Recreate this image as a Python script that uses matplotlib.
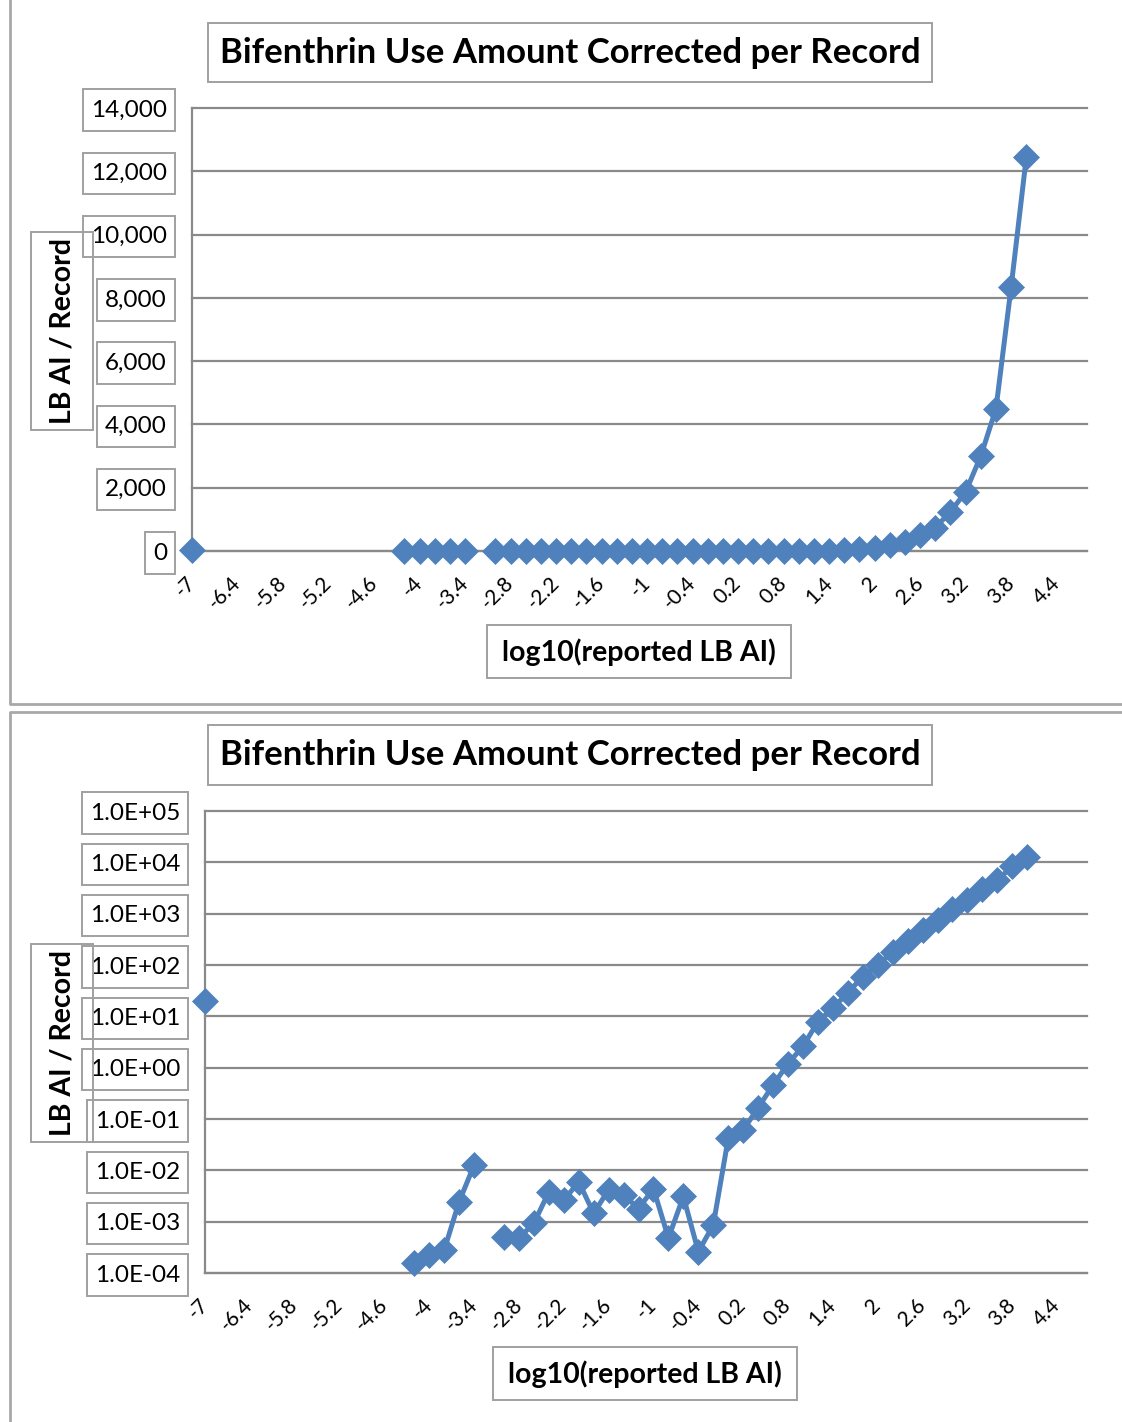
import numpy as np
import matplotlib
matplotlib.use("Agg")
import matplotlib.pyplot as plt
from matplotlib.patches import Rectangle
from matplotlib.lines import Line2D
from matplotlib.path import Path

plt.rcParams['font.family'] = ['Lato', 'DejaVu Sans']

# Bins of log10(reported LB AI); one value per bin, NaN where a bin has no records
log_reported = [-7.0, -6.8, -6.6, -6.4, -6.2, -6.0, -5.8, -5.6, -5.4, -5.2,
                -5.0, -4.8, -4.6, -4.4, -4.2, -4.0, -3.8, -3.6, -3.4, -3.2,
                -3.0, -2.8, -2.6, -2.4, -2.2, -2.0, -1.8, -1.6, -1.4, -1.2,
                -1.0, -0.8, -0.6, -0.4, -0.2, 0.0, 0.2, 0.4, 0.6, 0.8,
                1.0, 1.2, 1.4, 1.6, 1.8, 2.0, 2.2, 2.4, 2.6, 2.8,
                3.0, 3.2, 3.4, 3.6, 3.8, 4.0]
nan = np.nan
lb_ai_per_record = [20, nan, nan, nan, nan, nan, nan, nan, nan, nan,
                    nan, nan, nan, nan, 1.55e-4, 2.2e-4, 2.8e-4, 2.45e-3, 1.26e-2, nan,
                    5.1e-4, 4.8e-4, 9.3e-4, 3.8e-3, 2.6e-3, 6.0e-3, 1.45e-3, 4.2e-3, 3.3e-3, 1.8e-3,
                    4.4e-3, 4.8e-4, 3.1e-3, 2.6e-4, 8.6e-4, 0.042, 0.061, 0.165, 0.46, 1.2,
                    2.6, 7.9, 14.4, 29, 59, 100, 180, 298, 490, 740,
                    1240, 1870, 3000, 4500, 8350, 12450]

x_ticks = [-7.0, -6.4, -5.8, -5.2, -4.6, -4.0, -3.4, -2.8, -2.2, -1.6,
           -1.0, -0.4, 0.2, 0.8, 1.4, 2.0, 2.6, 3.2, 3.8, 4.4]
x_tick_labels = ["-7", "-6.4", "-5.8", "-5.2", "-4.6", "-4", "-3.4", "-2.8", "-2.2", "-1.6",
                 "-1", "-0.4", "0.2", "0.8", "1.4", "2", "2.6", "3.2", "3.8", "4.4"]
x_max = 4.8

lin_ticks = [0, 2000, 4000, 6000, 8000, 10000, 12000, 14000]
lin_labels = ["0", "2,000", "4,000", "6,000", "8,000", "10,000", "12,000", "14,000"]
log_ticks = [1e-4, 1e-3, 1e-2, 1e-1, 1e0, 1e1, 1e2, 1e3, 1e4, 1e5]
log_labels = ["1.0E-04", "1.0E-03", "1.0E-02", "1.0E-01", "1.0E+00",
              "1.0E+01", "1.0E+02", "1.0E+03", "1.0E+04", "1.0E+05"]

title = "Bifenthrin Use Amount Corrected per Record"
x_title = "log10(reported LB AI)"
y_title = "LB AI / Record"

SERIES = "#4F81BD"
GRID = "#8a8a8a"
BOX = "#a0a0a0"
FRAME = "#a8a8a8"

W, H = 1122, 1422
fig = plt.figure(figsize=(W / 100, H / 100), dpi=100)


class LabelBox:
    """Rectangular text frame with separate horizontal and vertical padding."""

    def __init__(self, padx, pady):
        self.padx = padx
        self.pady = pady

    def __call__(self, x0, y0, width, height, mutation_size):
        px = self.padx * mutation_size
        py = self.pady * mutation_size
        x0, y0 = x0 - px, y0 - py
        x1, y1 = x0 + width + 2 * px, y0 + height + 2 * py
        return Path([(x0, y0), (x1, y0), (x1, y1), (x0, y1), (x0, y0)], closed=True)


def fx(px):
    return px / W


def fy(py):
    return 1 - py / H


def axes_px(left, top, right, bottom):
    return fig.add_axes([fx(left), fy(bottom), (right - left) / W, (bottom - top) / H])


def box_px(left, top, right, bottom, fill=True):
    fig.add_artist(Rectangle((fx(left), fy(bottom)), (right - left) / W, (bottom - top) / H,
                             transform=fig.transFigure, fc="white" if fill else "none",
                             ec=BOX, lw=1.4, zorder=5))


def text_px(x, y, s, **kw):
    fig.text(fx(x), fy(y), s, ha="center", va="center", zorder=6, **kw)


def frame_line(xs, ys):
    fig.add_artist(Line2D([fx(v) for v in xs], [fy(v) for v in ys],
                          transform=fig.transFigure, color=FRAME, lw=2.0))


# chart-area outlines
frame_line([10, 10, 1122], [0, 704, 704])
frame_line([1122, 10, 10], [712, 712, 1422])


def style_axes(ax, ticks, labels):
    ax.set_xlim(-7.0, x_max)
    for side in ("top", "right"):
        ax.spines[side].set_visible(False)
    for side in ("left", "bottom"):
        ax.spines[side].set_color(GRID)
        ax.spines[side].set_linewidth(1.6)
    ax.set_yticks(ticks)
    ax.set_yticklabels(labels, fontsize=17.5)
    ax.yaxis.set_minor_locator(matplotlib.ticker.NullLocator())
    ax.tick_params(axis="y", length=0, pad=18)
    ax.yaxis.grid(True, color=GRID, lw=1.6)
    for gl in ax.get_ygridlines():
        gl.set_clip_on(False)
    ax.set_axisbelow(True)
    ax.set_xticks(x_ticks)
    ax.set_xticklabels(x_tick_labels, fontsize=15, rotation=45, ha="right",
                       va="center", rotation_mode="anchor")
    ax.tick_params(axis="x", length=0, pad=21)
    for lbl in ax.get_yticklabels():
        lbl.set_bbox(dict(boxstyle=LabelBox(0.32, 0.42), fc="white", ec=BOX, lw=1.4))


line_kw = dict(color=SERIES, lw=3.6, marker="D", ms=13, mec=SERIES, mew=0.5, clip_on=False, zorder=3)

# linear-scale chart
ax1 = axes_px(192, 108, 1087, 551)
ax1.plot(log_reported, lb_ai_per_record, **line_kw)
ax1.set_ylim(0, 14000)
style_axes(ax1, lin_ticks, lin_labels)

box_px(208, 23, 932, 82)
text_px(570, 53, title, fontsize=25, fontweight="bold")
box_px(487, 625, 791, 678)
text_px(639, 652, x_title, fontsize=20.5, fontweight="bold")
box_px(31, 232, 93, 430, fill=False)
text_px(63, 331, y_title, fontsize=20.5, fontweight="bold", rotation=90)

# log-scale chart
ax2 = axes_px(205, 811, 1087, 1273)
ax2.plot(log_reported, lb_ai_per_record, **line_kw)
ax2.set_yscale("log")
ax2.set_ylim(1e-4, 1e5)
style_axes(ax2, log_ticks, log_labels)

box_px(208, 725, 932, 785)
text_px(570, 755, title, fontsize=25, fontweight="bold")
box_px(493, 1347, 797, 1400)
text_px(645, 1374, x_title, fontsize=20.5, fontweight="bold")
box_px(31, 944, 93, 1142, fill=False)
text_px(63, 1043, y_title, fontsize=20.5, fontweight="bold", rotation=90)

fig.savefig("out.png", dpi=100, facecolor="white")
